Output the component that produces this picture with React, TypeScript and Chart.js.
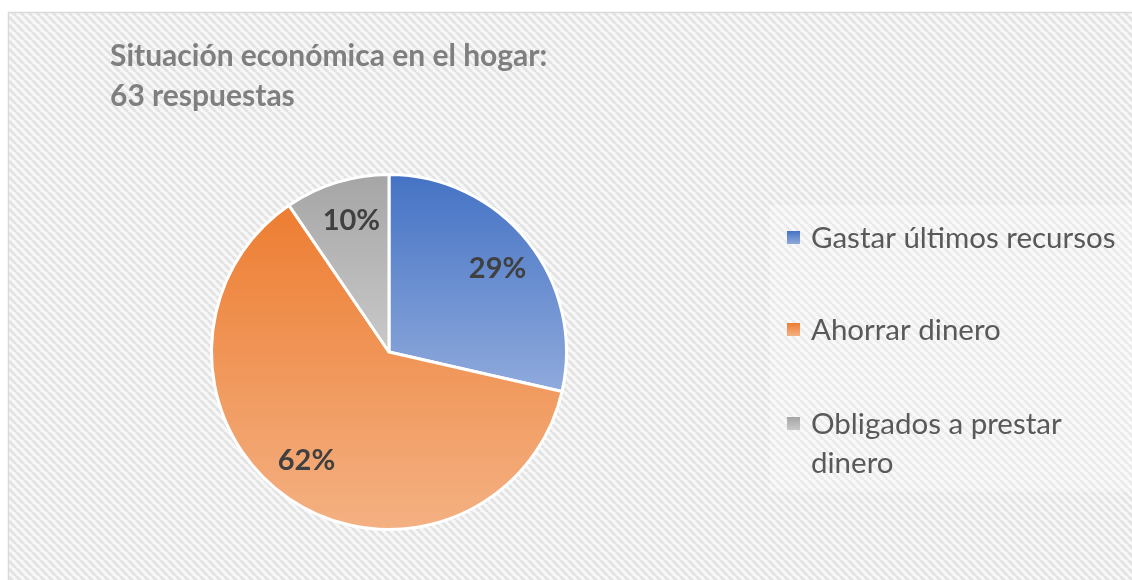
import React, { useEffect, useRef } from "react";
import { Chart, registerables } from "chart.js";

Chart.register(...registerables);

// ---- data ----
const categories = ["Gastar últimos recursos", "Ahorrar dinero", "Obligados a prestar dinero"];
const legendLines = [["Gastar últimos recursos"], ["Ahorrar dinero"], ["Obligados a prestar", "dinero"]];
const responses = [18, 39, 6];
const titleLines = ["Situación económica en el hogar:", "63 respuestas"];
const gradientTop = ["#4472C4", "#ED7D31", "#A5A5A5"];
const gradientBottom = ["#8FAADC", "#F4B183", "#C9C9C9"];

const W = 1132;
const H = 580;
const FONT = "Lato, 'Open Sans', sans-serif";

function makePattern(ctx: CanvasRenderingContext2D, bg: string, stripe: string) {
  const c = document.createElement("canvas");
  c.width = 8;
  c.height = 8;
  const p = c.getContext("2d")!;
  p.fillStyle = bg;
  p.fillRect(0, 0, 8, 8);
  p.strokeStyle = stripe;
  p.lineWidth = 3;
  for (const x of [-8, 0, 8]) {
    p.beginPath();
    p.moveTo(x, 0);
    p.lineTo(x + 8, 8);
    p.stroke();
  }
  return ctx.createPattern(c, "repeat")!;
}

function sliceGradient(chart: any, index: number) {
  const area = chart.chartArea;
  if (!area) return gradientTop[index];
  const cx = (area.left + area.right) / 2;
  const cy = (area.top + area.bottom) / 2;
  const r = Math.min(area.right - area.left, area.bottom - area.top) / 2;
  const total = responses.reduce((a, b) => a + b, 0);
  let start = -Math.PI / 2;
  for (let i = 0; i < index; i++) start += (responses[i] / total) * Math.PI * 2;
  const end = start + (responses[index] / total) * Math.PI * 2;
  const ys = [cy, cy + Math.sin(start) * r, cy + Math.sin(end) * r];
  for (const a of [-Math.PI / 2, Math.PI / 2, (3 * Math.PI) / 2]) {
    if (a >= start && a <= end) ys.push(cy + Math.sin(a) * r);
  }
  const minY = Math.min(...ys);
  const maxY = Math.max(...ys);
  const g = chart.ctx.createLinearGradient(0, minY, 0, Math.max(maxY, minY + 1));
  g.addColorStop(0, gradientTop[index]);
  g.addColorStop(1, gradientBottom[index]);
  return g;
}

const backgroundPlugin = {
  id: "bgPattern",
  beforeDraw(chart: any) {
    const ctx = chart.ctx as CanvasRenderingContext2D;
    ctx.save();
    ctx.fillStyle = "#ffffff";
    ctx.fillRect(0, 0, W, H);
    ctx.fillStyle = makePattern(ctx, "#f8f8f8", "#e3e3e3");
    ctx.fillRect(8, 12, W - 8, H - 12);
    // lighter legend box
    ctx.fillStyle = "rgba(255,255,255,0.28)";
    ctx.fillRect(770, 205, W - 770, 287);
    // border
    ctx.strokeStyle = "#d9d9d9";
    ctx.lineWidth = 1.5;
    ctx.beginPath();
    ctx.moveTo(8.5, H);
    ctx.lineTo(8.5, 12.5);
    ctx.lineTo(W, 12.5);
    ctx.stroke();
    ctx.restore();
  },
};

const decorPlugin = {
  id: "decor",
  afterDatasetsDraw(chart: any) {
    const ctx = chart.ctx as CanvasRenderingContext2D;
    const meta = chart.getDatasetMeta(0);
    const total = responses.reduce((a, b) => a + b, 0);
    ctx.save();
    // percentage labels
    ctx.fillStyle = "#404040";
    ctx.font = `bold 29px ${FONT}`;
    ctx.textAlign = "center";
    ctx.textBaseline = "middle";
    meta.data.forEach((arc: any, i: number) => {
      const { x, y, startAngle, endAngle, outerRadius } = arc.getProps(
        ["x", "y", "startAngle", "endAngle", "outerRadius"],
        true
      );
      const mid = (startAngle + endAngle) / 2 + (i === 1 ? 0.05 : 0.02);
      const d = outerRadius * 0.77;
      const label = Math.round((responses[i] / total) * 100) + "%";
      ctx.fillText(label, x + Math.cos(mid) * d, y + Math.sin(mid) * d);
    });

    // title
    ctx.textAlign = "left";
    ctx.textBaseline = "alphabetic";
    ctx.fillStyle = "#7f7f7f";
    ctx.font = `bold 30px ${FONT}`;
    titleLines.forEach((t, i) => ctx.fillText(t, 110, 66 + i * 40));

    // legend
    const baselines = [[248], [340], [434, 473]];
    ctx.font = `29.5px ${FONT}`;
    categories.forEach((_, i) => {
      const b = baselines[i][0];
      const sy = b - 17;
      const g = ctx.createLinearGradient(0, sy, 0, sy + 13);
      g.addColorStop(0, gradientTop[i]);
      g.addColorStop(1, gradientBottom[i]);
      ctx.fillStyle = g;
      ctx.fillRect(787, sy, 13, 13);
      ctx.fillStyle = "#595959";
      legendLines[i].forEach((line, j) => ctx.fillText(line, 811, baselines[i][j]));
    });
    ctx.restore();
  },
};

export default function App() {
  const ref = useRef<HTMLCanvasElement>(null);
  useEffect(() => {
    if (!ref.current) return;
    const chart = new Chart(ref.current, {
      type: "pie",
      data: {
        labels: categories,
        datasets: [
          {
            data: responses,
            backgroundColor: (c: any) => sliceGradient(c.chart, c.dataIndex),
            borderColor: "#ffffff",
            borderWidth: 3,
          },
        ],
      },
      options: {
        responsive: false,
        animation: false,
        layout: { padding: { left: 210, right: W - 568, top: 173, bottom: H - 531 } },
        plugins: {
          legend: { display: false },
          title: { display: false },
          tooltip: { enabled: false },
        },
      },
      plugins: [backgroundPlugin, decorPlugin],
    });
    return () => chart.destroy();
  }, []);
  return (
    <div style={{ position: "fixed", left: 0, top: 0, width: W, height: H }}>
      <canvas ref={ref} width={W} height={H} style={{ width: W, height: H, display: "block" }} />
    </div>
  );
}
